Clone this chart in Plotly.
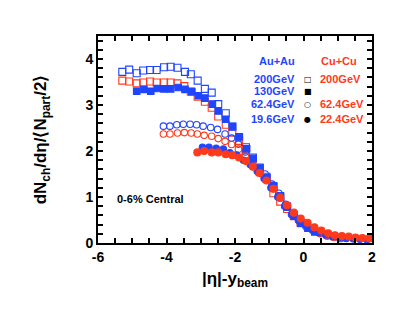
import plotly.graph_objects as go

# Au+Au 200 GeV (open blue squares)
auau200_x = [-5.29, -5.09, -4.87, -4.68, -4.48, -4.29, -4.07, -3.88, -3.68, -3.46, -3.29, -3.09, -2.88, -2.68,
             -2.49, -2.27, -2.08, -1.88, -1.68, -1.48, -1.28, -1.08, -0.88, -0.68, -0.48, -0.28, -0.08]
auau200_y = [3.72, 3.77, 3.69, 3.75, 3.76, 3.76, 3.82, 3.83, 3.81, 3.72, 3.67, 3.53, 3.35, 3.27,
             3.02, 2.82, 2.53, 2.30, 2.08, 1.86, 1.64, 1.44, 1.24, 1.02, 0.80, 0.60, 0.44]

# Au+Au 130 GeV (filled blue squares)
auau130_x = [-4.87, -4.66, -4.46, -4.27, -4.07, -3.88, -3.66, -3.46, -3.26, -3.07, -2.88, -2.66, -2.49, -2.27,
             -2.07, -1.88, -1.66, -1.47, -1.27, -1.07, -0.87, -0.67, -0.47, -0.27, -0.07, 0.13, 0.33]
auau130_y = [3.30, 3.34, 3.30, 3.36, 3.35, 3.35, 3.38, 3.34, 3.29, 3.20, 3.15, 3.02, 2.87, 2.69,
             2.53, 2.31, 2.05, 1.84, 1.63, 1.42, 1.22, 1.00, 0.78, 0.58, 0.43, 0.32, 0.24]

# Cu+Cu 200 GeV (open red squares)
cucu200_x = [-5.29, -5.09, -4.87, -4.68, -4.48, -4.29, -4.07, -3.88, -3.68, -3.48, -3.29, -3.09, -2.88, -2.68,
             -2.49, -2.27, -2.08, -1.88, -1.68, -1.48, -1.28, -1.08, -0.88, -0.68, -0.48, -0.28, -0.08]
cucu200_y = [3.53, 3.51, 3.47, 3.49, 3.51, 3.49, 3.49, 3.49, 3.47, 3.41, 3.29, 3.18, 3.07, 2.94,
             2.75, 2.57, 2.40, 2.22, 2.02, 1.82, 1.54, 1.40, 1.08, 0.90, 0.74, 0.58, 0.43]

# Au+Au 62.4 GeV (open blue circles)
auau62_x = [-4.09, -3.90, -3.70, -3.51, -3.31, -3.12, -2.93, -2.71, -2.51, -2.29, -2.10, -1.90, -1.70, -1.51,
            -1.31, -1.12, -0.92, -0.72, -0.52, -0.33, -0.13, 0.07, 0.27, 0.47, 0.67, 0.86, 1.06]
auau62_y = [2.54, 2.54, 2.57, 2.58, 2.58, 2.57, 2.54, 2.51, 2.47, 2.37, 2.28, 2.15, 1.98, 1.78,
            1.62, 1.50, 1.28, 1.08, 0.84, 0.64, 0.48, 0.36, 0.27, 0.21, 0.16, 0.13, 0.10]

# Cu+Cu 62.4 GeV (open red circles)
cucu62_x = [-4.09, -3.90, -3.68, -3.48, -3.28, -3.10, -2.90, -2.68, -2.49, -2.29, -2.10, -1.90, -1.70, -1.50,
            -1.30, -1.10, -0.90, -0.70, -0.50, -0.30, -0.10, 0.10, 0.30, 0.50, 0.70, 0.90, 1.10]
cucu62_y = [2.37, 2.37, 2.39, 2.40, 2.39, 2.37, 2.34, 2.32, 2.27, 2.21, 2.14, 2.04, 1.90, 1.74,
            1.56, 1.38, 1.18, 0.98, 0.78, 0.60, 0.45, 0.34, 0.26, 0.20, 0.15, 0.12, 0.10]

# Au+Au 19.6 GeV (filled blue circles)
auau19_x = [-2.95, -2.76, -2.55, -2.34, -2.15, -1.95, -1.75, -1.55, -1.35, -1.15, -0.95, -0.75, -0.55,
            -0.35, -0.15, 0.05, 0.25, 0.45, 0.65, 0.85, 1.05, 1.25, 1.45, 1.65, 1.85]
auau19_y = [2.08, 2.08, 2.06, 2.04, 1.96, 1.91, 1.80, 1.70, 1.56, 1.40, 1.20, 1.00, 0.80,
            0.62, 0.50, 0.40, 0.30, 0.23, 0.18, 0.14, 0.12, 0.10, 0.09, 0.08, 0.07]

# Cu+Cu 22.4 GeV (filled red circles)
cucu22_x = [-3.10, -2.90, -2.68, -2.49, -2.27, -2.08, -1.88, -1.68, -1.48, -1.28, -1.08, -0.88, -0.68,
            -0.48, -0.28, -0.08, 0.12, 0.32, 0.52, 0.72, 0.92, 1.12, 1.32, 1.52, 1.72, 1.92]
cucu22_y = [1.97, 2.00, 1.97, 1.97, 1.93, 1.91, 1.86, 1.78, 1.66, 1.52, 1.36, 1.18, 0.98,
            0.82, 0.66, 0.53, 0.44, 0.34, 0.27, 0.21, 0.17, 0.15, 0.14, 0.12, 0.11, 0.10]

x_labels = ["-6", "-4", "-2", "0", "2"]
y_labels = ["0", "1", "2", "3", "4"]

BLUE = "#1f45ff"
RED = "#ff3a1a"
FONT = "Arial, Liberation Sans, sans-serif"

series = [
    (auau200_x, auau200_y, "square-open", BLUE, 7),
    (cucu200_x, cucu200_y, "square-open", RED, 7),
    (auau62_x, auau62_y, "circle-open", BLUE, 6.5),
    (cucu62_x, cucu62_y, "circle-open", RED, 6.5),
    (auau130_x, auau130_y, "square", BLUE, 6.5),
    (auau19_x, auau19_y, "circle", BLUE, 6.5),
    (cucu22_x, cucu22_y, "circle", RED, 7),
]

fig = go.Figure()
for xs, ys, symbol, color, size in series:
    fig.add_trace(
        go.Scatter(
            x=xs,
            y=ys,
            mode="markers",
            marker={"symbol": symbol, "color": color, "size": size, "line": {"color": color, "width": 1.1}},
            showlegend=False,
            cliponaxis=False,
        )
    )

# tick marks every 0.5 on x and 0.2 on y, labels only on the integers listed above
x_tickvals = [-6 + 0.5 * i for i in range(17)]
x_ticktext = [f"<b>{x_labels[i // 4]}</b>" if i % 4 == 0 else "" for i in range(17)]
y_tickvals = [round(0.2 * i, 1) for i in range(23)]
y_ticktext = [f"<b>{y_labels[i // 5]}</b>" if i % 5 == 0 and i // 5 < len(y_labels) else "" for i in range(23)]

axis_common = {
    "showline": True,
    "linecolor": "black",
    "linewidth": 2,
    "mirror": "allticks",
    "ticks": "inside",
    "tickcolor": "black",
    "tickwidth": 1.5,
    "ticklen": 5,
    "showgrid": False,
    "zeroline": False,
    "automargin": False,
    "tickfont": {"family": FONT, "size": 14, "color": "black", "weight": "bold"},
}

fig.update_xaxes(
    range=[-6, 2],
    tickmode="array",
    tickvals=x_tickvals,
    ticktext=x_ticktext,
    title={"text": "<b>|η|-y<sub>beam</sub></b>", "font": {"family": FONT, "size": 17, "color": "black"}, "standoff": 8},
    **axis_common,
)
fig.update_yaxes(
    range=[0, 4.5],
    tickmode="array",
    tickvals=y_tickvals,
    ticktext=y_ticktext,
    title={
        "text": "<b>dN<sub>ch</sub>/dη/⟨N<sub>part</sub>/2⟩</b>",
        "font": {"family": FONT, "size": 17, "color": "black"},
        "standoff": 34,
    },
    **axis_common,
)

labels = [
    ("<b>Au+Au</b>", 0.726, 0.879, BLUE, "right"),
    ("<b>Cu+Cu</b>", 0.805, 0.879, RED, "left"),
    ("<b>200GeV</b>", 0.726, 0.792, BLUE, "right"),
    ("<b>130GeV</b>", 0.726, 0.734, BLUE, "right"),
    ("<b>62.4GeV</b>", 0.726, 0.671, BLUE, "right"),
    ("<b>19.6GeV</b>", 0.726, 0.599, BLUE, "right"),
    ("<b>200GeV</b>", 0.803, 0.792, RED, "left"),
    ("<b>62.4GeV</b>", 0.803, 0.671, RED, "left"),
    ("<b>22.4GeV</b>", 0.803, 0.599, RED, "left"),
]
for text, x, y, color, anchor in labels:
    fig.add_annotation(
        text=text, x=x, y=y, xref="paper", yref="paper", showarrow=False,
        xanchor=anchor, yanchor="middle", font={"family": FONT, "size": 11, "color": color},
    )

for glyph, y in [("□", 0.792), ("■", 0.734), ("○", 0.671), ("●", 0.599)]:
    fig.add_annotation(
        text=glyph, x=0.765, y=y, xref="paper", yref="paper", showarrow=False,
        xanchor="center", yanchor="middle", font={"family": "DejaVu Sans", "size": 8, "color": "black"},
    )

fig.add_annotation(
    text="<b>0-6% Central</b>", x=0.062, y=0.213, xref="paper", yref="paper", showarrow=False,
    xanchor="left", yanchor="middle", font={"family": FONT, "size": 11, "color": "black"},
)

# the page body adds an 8px offset, so margins are shifted to land the frame where the reference has it
fig.update_layout(
    width=415,
    height=321,
    margin={"l": 90, "r": 51, "t": 28, "b": 86},
    paper_bgcolor="white",
    plot_bgcolor="white",
    font={"family": FONT, "color": "black"},
)

fig.write_html("out.html")
